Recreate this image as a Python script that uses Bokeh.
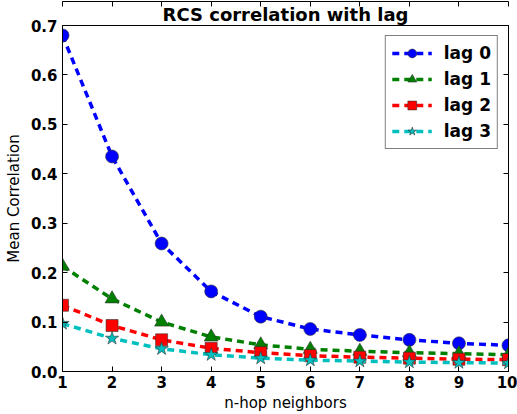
from bokeh.plotting import figure
from bokeh.models import (Range1d, FixedTicker, LinearAxis, Legend, LegendItem, Title,
                          PrintfTickFormatter, CustomJSTickFormatter)
from bokeh.embed import file_html
from bokeh.resources import INLINE

hops = [1, 2, 3, 4, 5, 6, 7, 8, 9, 10]
lag0 = [0.680, 0.435, 0.259, 0.162, 0.111, 0.086, 0.074, 0.064, 0.057, 0.053]
lag1 = [0.213, 0.147, 0.100, 0.070, 0.054, 0.045, 0.041, 0.038, 0.036, 0.034]
lag2 = [0.134, 0.093, 0.064, 0.047, 0.038, 0.032, 0.029, 0.027, 0.025, 0.024]
lag3 = [0.097, 0.067, 0.046, 0.034, 0.027, 0.023, 0.021, 0.019, 0.018, 0.017]
series_names = ["lag 0", "lag 1", "lag 2", "lag 3"]
x_ticks = [1, 2, 3, 4, 5, 6, 7, 8, 9, 10]
y_ticks = [0.0, 0.1, 0.2, 0.3, 0.4, 0.5, 0.6, 0.7]

FONT = "DejaVu Sans"

p = figure(width=517, height=414, output_backend="svg", toolbar_location=None,
           x_range=Range1d(1, 10), y_range=Range1d(0, 0.7),
           min_border_left=62, min_border_right=9, min_border_top=25, min_border_bottom=43)
p.title = None
p.add_layout(Title(text="RCS correlation with lag", align="center", text_font=FONT,
                   text_font_size="18px", text_font_style="bold", text_color="black",
                   standoff=1), "above")

p.xgrid.visible = False
p.ygrid.visible = False
p.outline_line_color = "black"
p.outline_line_width = 1
p.background_fill_color = "white"
p.border_fill_color = "white"

def style_axis(ax):
    ax.major_tick_in = 5
    ax.major_tick_out = 0
    ax.minor_tick_in = 0
    ax.minor_tick_out = 0
    ax.axis_line_color = "black"
    ax.major_tick_line_color = "black"
    ax.major_label_text_font = FONT
    ax.major_label_text_font_size = "15px"
    ax.major_label_text_font_style = "bold"
    ax.major_label_text_color = "black"
    ax.axis_label_text_font = FONT
    ax.axis_label_text_font_size = "15px"
    ax.axis_label_text_font_style = "normal"
    ax.axis_label_text_color = "black"

p.xaxis.ticker = FixedTicker(ticks=x_ticks)
p.yaxis.ticker = FixedTicker(ticks=y_ticks)
p.yaxis.formatter = PrintfTickFormatter(format="%.1f")
p.xaxis.axis_label = "n-hop neighbors"
p.yaxis.axis_label = "Mean Correlation"
for ax in p.xaxis + p.yaxis:
    style_axis(ax)
p.xaxis.major_label_standoff = 4
p.yaxis.major_label_standoff = 5
p.xaxis.axis_label_standoff = 3
p.yaxis.axis_label_standoff = 5

# mirrored tick marks on the top and right edges, without labels
blank = CustomJSTickFormatter(code="return ''")
top = LinearAxis(ticker=FixedTicker(ticks=x_ticks), formatter=blank)
right = LinearAxis(ticker=FixedTicker(ticks=y_ticks), formatter=blank)
for ax in (top, right):
    style_axis(ax)
    ax.major_label_standoff = 0
p.add_layout(top, "above")
p.add_layout(right, "right")

colors = ["#0000ff", "#008000", "#ff0000", "#00bfbf"]
markers = ["circle", "triangle", "square", "star"]
sizes = [13, 14, 12, 14]
data = [lag0, lag1, lag2, lag3]

items = []
for name, ys, c, m, s in zip(series_names, data, colors, markers, sizes):
    ln = p.line(hops, ys, line_color=c, line_width=3.5, line_dash="7 5")
    sc = p.scatter(hops, ys, marker=m, size=s, fill_color=c, line_color="#333333", line_width=0.6)
    items.append(LegendItem(label=name, renderers=[ln, sc]))

legend = Legend(items=items, location="top_right")
legend.label_text_font = FONT
legend.label_text_font_size = "17px"
legend.label_text_font_style = "bold"
legend.label_text_color = "black"
legend.border_line_color = "black"
legend.border_line_width = 1
legend.glyph_width = 40
legend.glyph_height = 22
legend.spacing = 4
legend.padding = 6
legend.margin = 10
legend.label_standoff = 12
p.add_layout(legend)

open("out.html", "w").write(file_html(p, INLINE))
